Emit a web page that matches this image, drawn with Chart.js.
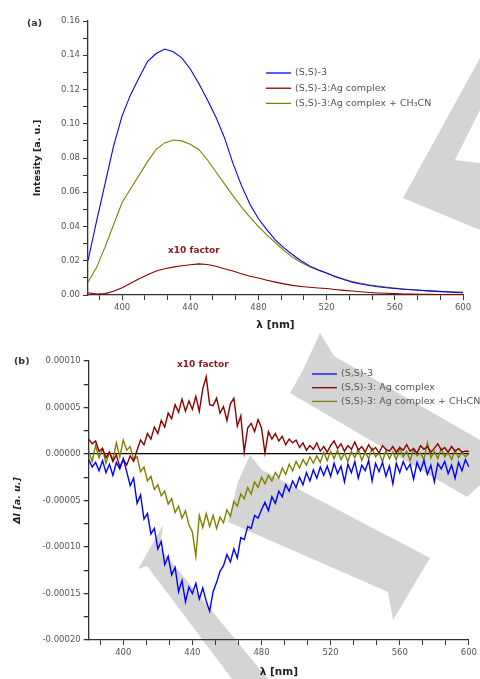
<!DOCTYPE html>
<html>
<head>
<meta charset="utf-8">
<script src="https://cdn.jsdelivr.net/npm/chart.js@4.4.1/dist/chart.umd.min.js"></script>
<style>
  body { margin: 0; background: #fff; width: 480px; height: 679px; overflow: hidden; position: relative; }
  canvas { position: absolute; left: 0; }
  #bg { top: 0; z-index: 0; }
  #chartA { top: 0; z-index: 1; }
  #chartB { top: 340px; z-index: 1; }
</style>
</head>
<body>
<canvas id="bg" width="480" height="679"></canvas>
<canvas id="chartA" width="480" height="340"></canvas>
<canvas id="chartB" width="480" height="339"></canvas>
<script>
// ---- panel (a): emission spectra ----
var seriesNames = ['(S,S)-3', '(S,S)-3:Ag complex', '(S,S)-3:Ag complex + CH\u2083CN'];
var seriesNamesB = ['(S,S)-3', '(S,S)-3: Ag complex', '(S,S)-3: Ag complex + CH\u2083CN'];
var colors = ['#0000ff', '#8b0000', '#808000'];

var lambdaA = [380, 385, 390, 395, 400, 405, 410, 415, 420, 425, 430, 435, 440, 445, 450,
               455, 460, 465, 470, 475, 480, 485, 490, 495, 500, 505, 510, 515, 520, 525,
               530, 535, 540, 545, 550, 555, 560, 565, 570, 575, 580, 585, 590, 595, 600];
var blueA = [0.020, 0.043, 0.065, 0.087, 0.1046, 0.117, 0.127, 0.1365, 0.141, 0.1436, 0.142, 0.1385, 0.132, 0.1235, 0.114,
             0.104, 0.092, 0.077, 0.064, 0.053, 0.0445, 0.038, 0.032, 0.0275, 0.0235, 0.020, 0.017, 0.0147, 0.0128, 0.0107,
             0.009, 0.0075, 0.0064, 0.0055, 0.0048, 0.0042, 0.0038, 0.0034, 0.0031, 0.0028, 0.0024, 0.0021, 0.0018, 0.0015, 0.0013];
var redA = [0.0013, 0.0005, 0.0008, 0.0022, 0.0042, 0.0068, 0.0095, 0.0118, 0.0140, 0.0153, 0.0163, 0.0171, 0.0177, 0.0182, 0.0178,
            0.0168, 0.0153, 0.0140, 0.0124, 0.0110, 0.0099, 0.0086, 0.0075, 0.0065, 0.0056, 0.0050, 0.0045, 0.0041, 0.0038, 0.0032,
            0.0027, 0.0023, 0.0019, 0.0015, 0.0012, 0.0010, 0.0008, 0.0006, 0.0005, 0.0004, 0.0004, 0.0003, 0.0003, 0.0003, 0.0003];
var oliveA = [0.0075, 0.016, 0.028, 0.041, 0.054, 0.062, 0.070, 0.078, 0.085, 0.0888, 0.0905, 0.090, 0.088, 0.085, 0.079,
              0.072, 0.065, 0.058, 0.0515, 0.0455, 0.040, 0.035, 0.0305, 0.026, 0.022, 0.019, 0.0165, 0.0145, 0.0127, 0.011,
              0.0093, 0.0079, 0.0069, 0.006, 0.0053, 0.0046, 0.004, 0.0035, 0.0031, 0.0027, 0.0024, 0.0022, 0.002, 0.0018, 0.0017];

// ---- panel (b): difference spectra, values in units of 1e-5 ----
var lambdaB = [380, 382, 384, 386, 388, 390, 392, 394, 396, 398,
               400, 402, 404, 406, 408, 410, 412, 414, 416, 418,
               420, 422, 424, 426, 428, 430, 432, 434, 436, 438,
               440, 442, 444, 446, 448, 450, 452, 454, 456, 458,
               460, 462, 464, 466, 468, 470, 472, 474, 476, 478,
               480, 482, 484, 486, 488, 490, 492, 494, 496, 498,
               500, 502, 504, 506, 508, 510, 512, 514, 516, 518,
               520, 522, 524, 526, 528, 530, 532, 534, 536, 538,
               540, 542, 544, 546, 548, 550, 552, 554, 556, 558,
               560, 562, 564, 566, 568, 570, 572, 574, 576, 578,
               580, 582, 584, 586, 588, 590, 592, 594, 596, 598, 600];
var blueB = [-0.6, -1.4, -0.9, -1.8, -0.7, -2.0, -1.1, -2.3, -0.9, -1.6,
             -0.5, -1.9, -3.4, -2.6, -5.3, -4.4, -7.0, -6.4, -8.6, -8.0,
             -10.2, -9.4, -11.9, -11.0, -13.0, -12.2, -14.8, -13.6, -15.9, -14.3,
             -15.0, -13.9, -15.6, -14.4, -15.8, -16.9, -14.8, -13.8, -12.6, -12.0,
             -10.8, -11.6, -10.2, -11.2, -9.0, -9.2, -7.8, -8.0, -6.6, -6.9,
             -6.0, -5.2, -6.1, -4.6, -5.3, -4.0, -4.6, -3.3, -4.0, -2.9,
             -3.6, -2.5, -3.3, -2.0, -2.9, -1.7, -2.6, -1.4, -2.3, -1.3,
             -2.4, -1.0, -2.1, -1.3, -3.0, -1.1, -2.0, -0.8, -2.6, -1.2,
             -1.8, -0.7, -2.9, -1.0, -1.9, -0.9, -2.4, -1.3, -3.2, -1.0,
             -2.0, -0.8, -1.7, -1.1, -2.7, -0.9, -1.8, -0.7, -2.2, -1.2,
             -3.0, -1.0, -1.6, -0.8, -2.1, -1.2, -2.6, -0.9, -1.8, -0.6, -1.4];
var redB = [1.6, 1.1, 1.4, 0.3, 0.6, -0.4, 0.2, -0.8, -0.1, -1.4,
            -0.6, -1.2, -0.2, -0.8, 0.4, 1.5, 1.0, 2.2, 1.6, 2.9,
            2.2, 3.6, 2.9, 4.4, 3.8, 5.3, 4.5, 5.9, 4.6, 5.7,
            4.8, 6.2, 4.6, 7.0, 8.3, 5.3, 5.2, 6.0, 4.4, 5.1,
            3.6, 5.4, 6.0, 3.0, 4.1, 0.2, 2.8, 3.3, 2.4, 3.7,
            2.8, 0.1, 2.4, 1.6, 2.2, 1.4, 1.9, 1.0, 1.6, 1.2,
            1.5, 0.7, 1.2, 0.4, 0.9, 0.5, 1.2, 0.3, 0.8, 0.2,
            0.9, 1.4, 0.6, 1.1, 0.3, 0.9, 0.5, 1.3, 0.4, 0.8,
            0.2, 1.0, 0.4, 0.7, 0.1, 0.9, 0.5, 0.3, 0.8, 0.2,
            0.7, 0.4, 1.0, 0.3, 0.6, 0.1, 0.9, 0.5, 0.8, 0.2,
            0.6, 1.1, 0.4, 0.7, 0.2, 0.8, 0.3, 0.6, 0.2, 0.3, 0.3];
var oliveB = [0.3, -0.8, 0.9, -0.4, 0.6, -1.0, 0.2, -0.6, 1.2, -0.3,
              1.5, 0.4, 0.8, -0.6, -0.3, -1.9, -1.4, -2.9, -2.4, -3.8,
              -3.3, -4.5, -4.0, -5.4, -4.8, -6.3, -5.6, -6.9, -6.1, -7.6,
              -8.4, -11.0, -6.6, -7.9, -6.4, -7.8, -6.6, -8.0, -6.8, -7.4,
              -6.0, -6.7, -5.1, -5.6, -4.3, -4.8, -3.6, -4.3, -3.0, -3.6,
              -2.5, -3.2, -2.3, -2.9, -2.0, -2.6, -1.5, -2.2, -1.1, -1.8,
              -0.8, -1.5, -0.6, -1.2, -0.3, -1.0, -0.2, -0.9, 0.2, -0.7,
              0.3, -0.5, 0.4, -0.6, 0.1, -0.8, 0.3, -0.4, 0.5, -0.7,
              0.2, -0.5, 0.6, -0.3, 0.1, -0.8, 0.4, -0.5, 0.2, -0.6,
              0.7, -0.3, 0.3, -0.7, 0.5, -0.2, 0.1, -0.6, 1.2, -0.4,
              0.3, -0.5, 0.6, -0.3, 0.2, -0.6, 0.4, -0.4, 0.2, -0.3, 0.0];

// tick labels
var xMajor = [400, 440, 480, 520, 560, 600];
var yMajorA = [0, 0.02, 0.04, 0.06, 0.08, 0.10, 0.12, 0.14, 0.16];
var yMajorB = [-0.0002, -0.00015, -0.0001, -0.00005, 0, 0.00005, 0.0001];

// grey watermark shapes behind the plots (page pixels)
var watermark = [
    [[480, 58], [480, 110], [455, 160], [480, 163], [480, 230], [403, 198], [425, 158]],
    [[320, 333], [334, 356], [480, 440], [480, 485], [467, 497], [290, 393], [303, 370]],
    [[250, 455], [262, 470], [430, 558], [393, 620], [388, 592], [228, 522], [238, 482]],
    [[163, 525], [160, 548], [268, 679], [232, 679], [147, 566], [138, 569]]
];

// helpers
function pts(xs, ys, k) {
    return xs.map(function(x, i) { return { x: x, y: ys[i] * (k || 1) }; });
}
function withMinors(majors, parts, lo, hi) {
    var out = [];
    var step = majors[1] - majors[0];
    var start = majors[0] - step;
    for (var i = 0; i <= majors.length; i++) {
        var base = start + i * step;
        for (var j = 0; j < parts; j++) {
            var v = base + j * step / parts;
            if (j === 0 && i > 0) v = majors[i - 1];
            if (v >= lo - 1e-12 && v <= hi + 1e-12) out.push({ value: v });
        }
    }
    return out;
}
function isMajor(v, majors) {
    var tol = Math.abs(majors[1] - majors[0]) * 1e-6;
    return majors.some(function(m) { return Math.abs(m - v) < tol; });
}

// background
(function() {
    var ctx = document.getElementById('bg').getContext('2d');
    ctx.fillStyle = '#d4d4d4';
    watermark.forEach(function(poly) {
        ctx.beginPath();
        poly.forEach(function(p, i) { if (i === 0) ctx.moveTo(p[0], p[1]); else ctx.lineTo(p[0], p[1]); });
        ctx.closePath();
        ctx.fill();
    });
})();

var notesPlugin = {
    id: 'notes',
    afterDraw: function(chart, args, opts) {
        var ctx = chart.ctx;
        (opts.items || []).forEach(function(it) {
            ctx.save();
            ctx.font = it.font;
            ctx.fillStyle = it.color;
            ctx.textBaseline = 'middle';
            ctx.fillText(it.text, it.x, it.y);
            ctx.restore();
        });
    }
};
var legendPlugin = {
    id: 'floatLegend',
    afterDraw: function(chart, args, opts) {
        var ctx = chart.ctx;
        chart.data.datasets.forEach(function(ds, i) {
            var y = opts.y + i * opts.gap;
            ctx.save();
            ctx.strokeStyle = ds.borderColor;
            ctx.lineWidth = 1.3;
            ctx.beginPath();
            ctx.moveTo(opts.x, y);
            ctx.lineTo(opts.x + opts.len, y);
            ctx.stroke();
            ctx.font = opts.font;
            ctx.fillStyle = opts.color;
            ctx.textBaseline = 'middle';
            ctx.fillText(ds.label, opts.x + opts.len + 4, y);
            ctx.restore();
        });
    }
};

var tickFont = { family: 'DejaVu Sans', size: 8.5 };
var tickColor = '#555';
var axisColor = '#333';

function xAxis(height, titlePad) {
    return {
        type: 'linear', min: 380, max: 600,
        afterBuildTicks: function(s) { s.ticks = withMinors(xMajor, 3, 380, 600); },
        afterFit: function(s) { s.height = height; },
        ticks: {
            autoSkip: false, maxRotation: 0, padding: 3, font: tickFont, color: tickColor,
            callback: function(v) { return isMajor(v, xMajor) ? String(Math.round(v)) : ''; }
        },
        grid: { drawOnChartArea: false, drawTicks: true, tickLength: 5, tickColor: axisColor },
        border: { display: true, color: axisColor, width: 1.3 },
        title: { display: true, text: '\u03bb [nm]', color: '#222',
                 font: { family: 'DejaVu Sans', size: 10.5, weight: 'bold' }, padding: { top: 0, bottom: titlePad } }
    };
}

// panel (a)
new Chart(document.getElementById('chartA').getContext('2d'), {
    type: 'line',
    data: {
        datasets: [
            { label: seriesNames[0], data: pts(lambdaA, blueA), borderColor: colors[0] },
            { label: seriesNames[1], data: pts(lambdaA, redA), borderColor: colors[1] },
            { label: seriesNames[2], data: pts(lambdaA, oliveA), borderColor: colors[2] }
        ]
    },
    options: {
        responsive: false, animation: false,
        layout: { padding: { top: 21, right: 17, left: 0, bottom: 0 } },
        elements: { point: { radius: 0 }, line: { borderWidth: 1.1, tension: 0 } },
        scales: {
            x: xAxis(45, 8),
            y: {
                min: 0, max: 0.16,
                afterBuildTicks: function(s) { s.ticks = withMinors(yMajorA, 2, 0, 0.16); },
                afterFit: function(s) { s.width = 88; },
                ticks: { autoSkip: false, padding: 3, font: tickFont, color: tickColor,
                         callback: function(v) { return isMajor(v, yMajorA) ? v.toFixed(2) : ''; } },
                grid: { drawOnChartArea: false, drawTicks: true, tickLength: 5, tickColor: axisColor },
                border: { display: true, color: axisColor, width: 1.3 },
                title: { display: true, text: 'Intesity [a. u.]', color: '#222',
                         font: { family: 'DejaVu Sans', size: 9.5, weight: 'bold' }, padding: { top: 31.5, bottom: 0 } }
            }
        },
        plugins: {
            legend: { display: false },
            tooltip: { enabled: false },
            floatLegend: { x: 266, y: 73, gap: 15.2, len: 25, font: '9.5px "DejaVu Sans"', color: '#555' },
            notes: { items: [
                { text: '(a)', x: 27, y: 24, font: 'bold 9.5px "DejaVu Sans"', color: '#333' },
                { text: 'x10 factor', x: 168, y: 251, font: 'bold 9px "DejaVu Sans"', color: '#8b1a1a' }
            ] }
        }
    },
    plugins: [notesPlugin, legendPlugin]
});

// panel (b)
var K = 1e-5;
new Chart(document.getElementById('chartB').getContext('2d'), {
    type: 'line',
    data: {
        datasets: [
            { label: seriesNamesB[0], data: pts(lambdaB, blueB, K), borderColor: colors[0] },
            { label: seriesNamesB[1], data: pts(lambdaB, redB, K), borderColor: colors[1] },
            { label: seriesNamesB[2], data: pts(lambdaB, oliveB, K), borderColor: colors[2] }
        ]
    },
    options: {
        responsive: false, animation: false,
        layout: { padding: { top: 21, right: 9, left: 0, bottom: 0 } },
        elements: { point: { radius: 0 }, line: { borderWidth: 1.4, tension: 0 } },
        scales: {
            x: xAxis(39, 0),
            y: {
                min: -0.0002, max: 0.0001,
                afterBuildTicks: function(s) { s.ticks = withMinors(yMajorB, 2, -0.0002, 0.0001); },
                afterFit: function(s) { s.width = 88.7; },
                ticks: { autoSkip: false, padding: 3, font: tickFont, color: tickColor,
                         callback: function(v) { return isMajor(v, yMajorB) ? (Math.abs(v) < 1e-12 ? '0.00000' : v.toFixed(5)) : ''; } },
                grid: {
                    drawOnChartArea: true, drawTicks: true, tickLength: 5, tickColor: axisColor, lineWidth: 1.3,
                    color: function(c) { return c.tick && Math.abs(c.tick.value) < 1e-12 ? '#000' : 'rgba(0,0,0,0)'; }
                },
                border: { display: true, color: axisColor, width: 1.3 },
                title: { display: true, text: '\u0394I [a. u.]', color: '#222',
                         font: { family: 'DejaVu Sans', size: 9.5, weight: 'bold', style: 'italic' }, padding: { top: 11.5, bottom: 0 } }
            }
        },
        plugins: {
            legend: { display: false },
            tooltip: { enabled: false },
            floatLegend: { x: 312, y: 34, gap: 13.7, len: 25, font: '9.5px "DejaVu Sans"', color: '#555' },
            notes: { items: [
                { text: '(b)', x: 14, y: 22, font: 'bold 9.5px "DejaVu Sans"', color: '#333' },
                { text: 'x10 factor', x: 177, y: 25, font: 'bold 9px "DejaVu Sans"', color: '#8b1a1a' }
            ] }
        }
    },
    plugins: [notesPlugin, legendPlugin]
});
</script>
</body>
</html>
